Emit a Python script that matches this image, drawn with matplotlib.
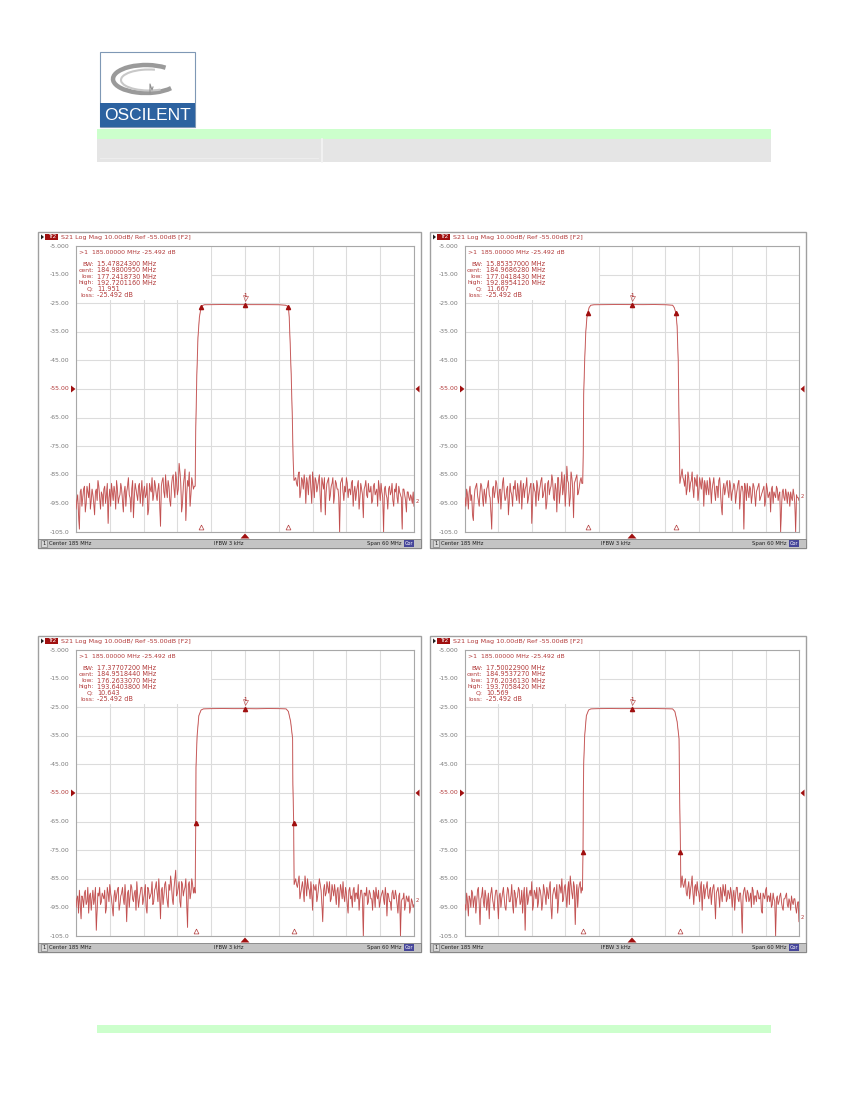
import numpy as np
import matplotlib
matplotlib.use("Agg")
import matplotlib.pyplot as plt
from matplotlib.patches import Rectangle, Arc, Polygon

# ---------------- data ----------------
f_start, f_stop = 155.0, 215.0
ref_level = -55.0
y_tick_labels = ["-5.000", "-15.00", "-25.00", "-35.00", "-45.00", "-55.00",
                 "-65.00", "-75.00", "-85.00", "-95.00", "-105.0"]
y_tick_values = [-5, -15, -25, -35, -45, -55, -65, -75, -85, -95, -105]
title_text = "S21 Log Mag 10.00dB/ Ref -55.00dB [F2]"
status_left = "Center 185 MHz"
status_mid = "IFBW 3 kHz"
status_right = "Span 60 MHz"
marker_freq = 185.0
loss_db = -25.492
info_labels = ["BW:", "cent:", "low:", "high:", "Q:", "loss:"]

bw_vals = [15.47824300, 15.85357000, 17.37707200, 17.50022900]
cent_vals = [184.9800950, 184.9686280, 184.9518440, 184.9537270]
low_vals = [177.2418730, 177.0418430, 176.2633070, 176.2036130]
high_vals = [192.7201160, 192.8954120, 193.6403800, 193.7058420]
q_vals = [11.951, 11.667, 10.643, 10.569]
bw_level = [-26.492, -28.492, -65.492, -75.492]

# passband / skirt samples (MHz, dB)
p1_pass_f = [176.15, 176.25, 176.45, 176.65, 176.9, 177.1, 177.24, 177.45, 177.8, 179.0, 181.0,
             183.0, 185.0, 187.0, 189.0, 191.0, 192.2, 192.5, 192.72, 192.85, 193.0, 193.2,
             193.4, 193.55, 193.7]
p1_pass_db = [-89, -70, -50, -37, -30, -27.6, -26.5, -25.8, -25.55, -25.5, -25.45,
              -25.5, -25.49, -25.45, -25.5, -25.55, -25.7, -26.0, -26.5, -30, -38, -50,
              -65, -80, -87]
p2_pass_f = [176.15, 176.25, 176.32, 176.5, 176.7, 176.9, 177.04, 177.3, 177.6, 178.2, 180.0,
             182.0, 185.0, 187.0, 189.0, 191.0, 192.3, 192.6, 192.9, 193.1, 193.3, 193.4,
             193.46, 193.6]
p2_pass_db = [-88, -76, -57, -45, -35, -30, -28.5, -26.5, -25.7, -25.55, -25.5,
              -25.45, -25.49, -25.5, -25.45, -25.55, -25.7, -26.6, -28.5, -33, -45, -60,
              -69, -88]
p3_pass_f = [176.15, 176.22, 176.26, 176.3, 176.5, 176.8, 177.2, 177.6, 179.0, 181.0, 183.0,
             185.0, 187.0, 189.0, 191.0, 192.3, 192.7, 193.1, 193.45, 193.5, 193.64, 193.72]
p3_pass_db = [-90, -75, -65.5, -46, -35, -28, -26, -25.6, -25.5, -25.45, -25.5,
              -25.49, -25.55, -25.45, -25.5, -25.6, -26.5, -30, -36, -52, -65.5, -87]
p4_pass_f = [176.1, 176.2, 176.25, 176.32, 176.5, 176.8, 177.2, 177.6, 179.0, 181.0, 183.0,
             185.0, 187.0, 189.0, 191.0, 192.3, 192.7, 193.1, 193.45, 193.55, 193.71, 193.78]
p4_pass_db = [-89, -75.5, -57, -45, -35, -28, -26, -25.6, -25.5, -25.45, -25.5,
              -25.49, -25.5, -25.45, -25.55, -25.6, -26.5, -30, -36, -55, -75.5, -88]

# noise floor outside the passband (dB): left 155..176 MHz, right 194..215 MHz
# "_mid" lists hold the samples lying between the main samples
p1_left = [-97, -92, -104, -90, -93, -89, -95, -91, -88, -94, -92, -99, -90, -87, -93, -91, -96,
           -89, -92, -102, -90, -88, -94, -91, -87, -95, -92, -90, -98, -89, -91, -86, -93, -90,
           -100, -88, -92, -89, -95, -87, -91, -93, -88, -97, -90, -86, -92, -89, -94, -88, -103,
           -87, -91, -85, -93, -89, -96, -86, -90, -84, -92, -81, -88, -95, -86, -101, -87, -84,
           -92, -88, -89]
p1_left_mid = [-94, -99, -91, -96, -90, -98, -89, -93, -97, -90, -95, -91, -94, -89, -97, -92, -90,
               -95, -88, -93, -96, -91, -89, -97, -90, -93, -88, -94, -91, -96, -89, -92, -98, -87,
               -93, -90, -94, -88, -91, -96, -89, -92, -99, -88, -91, -94, -87, -92, -90, -95, -89,
               -86, -93, -90, -87, -94, -89, -85, -93, -87, -90, -84, -98, -89, -83, -92, -89, -96,
               -86, -90]
p1_right = [-86, -89, -84, -91, -87, -85, -95, -88, -86, -90, -84, -93, -87, -89, -85, -98, -88,
            -86, -91, -87, -94, -89, -86, -92, -88, -90, -105, -87, -91, -89, -86, -93, -90, -88,
            -96, -89, -91, -87, -93, -90, -100, -89, -92, -88, -91, -95, -89, -92, -90, -87, -94,
            -91, -105, -89, -93, -90, -92, -88, -96, -91, -93, -89, -92, -104, -90, -94, -91,
            -93, -92, -95, -96]
p1_right_mid = [-88, -85, -93, -86, -90, -88, -86, -92, -85, -95, -88, -86, -91, -87, -93, -86, -90,
                -99, -88, -86, -92, -88, -95, -87, -90, -93, -88, -86, -94, -91, -88, -90, -92, -87,
                -91, -94, -89, -97, -88, -92, -90, -87, -93, -91, -89, -94, -88, -91, -96, -90, -88,
                -93, -90, -92, -97, -89, -91, -94, -90, -88, -95, -91, -93, -90, -92, -98, -91, -94,
                -93, -91]
p2_left = [-93, -90, -97, -89, -92, -101, -90, -88, -94, -91, -89, -96, -92, -90, -87, -93, -104,
           -89, -91, -88, -95, -90, -92, -86, -94, -90, -99, -88, -92, -89, -87, -94, -91, -89,
           -97, -88, -90, -86, -93, -89, -102, -88, -91, -87, -94, -89, -86, -92, -88, -95, -87,
           -90, -85, -93, -88, -98, -86, -91, -84, -89, -96, -82, -88, -93, -86, -100, -87, -85,
           -91, -87, -88]
p2_left_mid = [-96, -92, -91, -94, -99, -93, -89, -92, -96, -88, -93, -90, -95, -89, -92, -98, -90,
               -93, -87, -92, -91, -97, -88, -91, -93, -89, -94, -91, -96, -90, -92, -88, -95, -87,
               -91, -93, -89, -95, -91, -88, -94, -90, -96, -89, -91, -87, -93, -90, -97, -88, -92,
               -89, -87, -94, -90, -86, -95, -88, -92, -85, -91, -87, -96, -84, -90, -88, -86, -92,
               -89, -86]
p2_right = [-83, -87, -85, -90, -86, -88, -84, -93, -87, -85, -91, -88, -86, -96, -89, -87, -92,
            -88, -90, -86, -94, -89, -87, -91, -99, -88, -90, -87, -93, -89, -91, -88, -95, -90,
            -87, -92, -89, -104, -90, -88, -93, -90, -92, -89, -96, -90, -88, -93, -91, -89, -94,
            -90, -92, -98, -89, -91, -93, -90, -92, -105, -91, -93, -90, -95, -92, -91, -94,
            -92, -105, -93, -94]
p2_right_mid = [-86, -89, -92, -84, -91, -87, -90, -86, -89, -94, -86, -90, -88, -87, -92, -90, -86,
                -95, -88, -91, -89, -93, -86, -96, -90, -92, -88, -91, -87, -94, -90, -89, -92, -88,
                -97, -89, -91, -88, -94, -91, -89, -95, -88, -92, -91, -89, -94, -92, -90, -96, -88,
                -93, -91, -90, -95, -92, -89, -94, -91, -97, -90, -94, -92, -91, -96, -93, -90, -95,
                -92, -93]
p3_left = [-95, -91, -89, -99, -92, -90, -94, -88, -91, -96, -89, -92, -103, -90, -88, -93, -91,
           -89, -95, -90, -87, -92, -98, -89, -91, -88, -94, -90, -92, -87, -100, -89, -91, -88,
           -93, -89, -86, -95, -90, -88, -92, -87, -97, -89, -91, -86, -93, -88, -90, -85, -99,
           -88, -91, -86, -93, -87, -84, -92, -88, -82, -90, -86, -95, -87, -89, -85, -102, -86,
           -90, -87, -88]
p3_left_mid = [-92, -97, -94, -91, -95, -89, -93, -97, -90, -92, -94, -88, -96, -91, -94, -90, -92,
               -97, -88, -93, -90, -95, -91, -93, -89, -96, -91, -88, -94, -92, -90, -95, -87, -92,
               -90, -96, -91, -92, -88, -94, -90, -95, -88, -92, -90, -94, -89, -86, -93, -91, -89,
               -94, -87, -90, -95, -89, -87, -94, -85, -91, -88, -93, -86, -91, -88, -94, -87, -92,
               -85, -90]
p3_right = [-85, -88, -84, -90, -86, -93, -87, -85, -89, -86, -96, -88, -87, -91, -85, -89, -100,
            -87, -90, -88, -86, -92, -89, -87, -94, -88, -91, -89, -86, -93, -90, -97, -88, -91,
            -89, -93, -90, -87, -92, -89, -105, -90, -88, -93, -90, -92, -89, -95, -91, -89, -93,
            -90, -92, -88, -98, -91, -93, -90, -92, -89, -94, -91, -105, -92, -90, -94, -92,
            -91, -95, -93, -94]
p3_right_mid = [-87, -86, -92, -88, -89, -84, -91, -88, -92, -90, -87, -89, -93, -88, -87, -94, -89,
                -91, -86, -90, -93, -87, -91, -90, -89, -95, -87, -92, -91, -88, -94, -89, -92, -95,
                -88, -90, -92, -96, -89, -92, -90, -91, -94, -89, -92, -96, -90, -88, -92, -95, -91,
                -89, -94, -91, -90, -93, -96, -89, -92, -91, -97, -90, -93, -92, -96, -91, -93, -97,
                -92, -95]
p4_left = [-94, -90, -98, -92, -89, -95, -91, -93, -88, -101, -91, -93, -89, -96, -90, -92, -88,
           -94, -91, -89, -99, -90, -92, -88, -95, -91, -89, -93, -87, -97, -90, -92, -88, -94,
           -89, -91, -103, -88, -92, -89, -86, -94, -90, -88, -93, -89, -96, -87, -91, -88, -92,
           -86, -99, -89, -90, -87, -93, -88, -85, -92, -87, -95, -86, -84, -90, -86, -101, -87,
           -89, -86, -88]
p4_left_mid = [-96, -93, -91, -95, -90, -92, -97, -89, -94, -92, -88, -95, -91, -93, -99, -90, -92,
               -96, -89, -93, -91, -95, -90, -92, -96, -88, -93, -91, -94, -89, -95, -91, -89, -93,
               -97, -88, -92, -94, -90, -91, -96, -89, -92, -95, -88, -91, -93, -89, -94, -90, -88,
               -95, -91, -88, -92, -97, -87, -90, -93, -88, -91, -89, -94, -87, -92, -88, -91, -95,
               -87, -90]
p4_right = [-84, -88, -85, -91, -86, -89, -84, -94, -87, -86, -90, -88, -96, -87, -89, -86, -92,
            -88, -90, -87, -99, -89, -91, -88, -93, -89, -87, -92, -90, -88, -95, -89, -91, -88,
            -93, -90, -104, -89, -91, -89, -93, -90, -88, -94, -91, -89, -92, -90, -97, -91, -89,
            -93, -91, -90, -94, -92, -105, -91, -93, -90, -95, -92, -91, -94, -92, -96, -93,
            -92, -95, -94, -100]
p4_right_mid = [-87, -86, -90, -88, -92, -87, -90, -88, -91, -89, -93, -86, -90, -92, -88, -91, -89,
                -94, -88, -92, -90, -88, -95, -90, -87, -91, -93, -89, -92, -90, -91, -96, -88, -92,
                -90, -95, -91, -88, -93, -90, -92, -95, -89, -91, -93, -90, -92, -96, -90, -92, -88,
                -91, -93, -95, -90, -93, -92, -94, -91, -93, -96, -92, -90, -95, -93, -91, -94, -92,
                -97, -93]

pass_f = [p1_pass_f, p2_pass_f, p3_pass_f, p4_pass_f]
pass_db = [p1_pass_db, p2_pass_db, p3_pass_db, p4_pass_db]
noise_left = [p1_left, p2_left, p3_left, p4_left]
noise_left_mid = [p1_left_mid, p2_left_mid, p3_left_mid, p4_left_mid]
noise_right = [p1_right, p2_right, p3_right, p4_right]
noise_right_mid = [p1_right_mid, p2_right_mid, p3_right_mid, p4_right_mid]


def merge(main, mid, fa, fb):
    fm = np.linspace(fa, fb, len(main))
    centers = (fm[:-1] + fm[1:]) / 2
    n = min(len(mid), len(centers))
    f = np.concatenate([fm, centers[:n]])
    d = np.concatenate([np.asarray(main, float), np.asarray(mid[:n], float)])
    o = np.argsort(f, kind="stable")
    return f[o], d[o]


# ---------------- layout ----------------
W, H = 850, 1100
fig = plt.figure(figsize=(8.5, 11), dpi=100)
page = fig.add_axes([0, 0, 1, 1])
page.set_xlim(0, W)
page.set_ylim(H, 0)
page.axis("off")

TRACE = "#d06e6e"
DARK = "#a00f0f"
TXT_RED = "#b23a3a"
GRID = "#dcdcdc"

# logo
page.add_patch(Rectangle((100, 52), 95, 75, facecolor="white", edgecolor="#7f98b5", lw=0.8))
page.add_patch(Rectangle((100, 103), 95, 24, facecolor="#2c62a0", edgecolor="none"))
page.text(147.5, 116, "OSCILENT", color="white", fontsize=12.5, ha="center", va="center",
          family="Liberation Sans")
page.add_patch(Arc((146, 79), 66, 28, theta1=20, theta2=330, color="#9a9a9a", lw=3.2))
page.add_patch(Arc((149, 80), 56, 21, theta1=40, theta2=300, color="#c8c8c8", lw=1.5))
page.plot([150, 150, 152, 153], [93, 84, 90, 87], color="#909090", lw=0.8)

# header bars
page.add_patch(Rectangle((97, 129), 674, 10, facecolor="#ccffcc", edgecolor="none"))
page.add_patch(Rectangle((97, 139), 674, 22.5, facecolor="#e5e5e5", edgecolor="none"))
page.plot([322, 322], [139, 161.5], color="#f4f4f4", lw=1.2)
page.plot([100, 318], [158, 158], color="#ededed", lw=0.8)
# footer bar
page.add_patch(Rectangle((97, 1025), 674, 7.5, facecolor="#ccffcc", edgecolor="none"))

panels = [
    ((38, 232, 421, 548), (76, 246, 414, 532)),
    ((430, 232, 806, 548), (465, 246, 799, 532)),
    ((38, 636, 421, 952), (76, 650, 414, 936)),
    ((430, 636, 806, 952), (465, 650, 799, 936)),
]

for i, ((fx0, fy0, fx1, fy1), (ax0, ay0, ax1, ay1)) in enumerate(panels):
    # frame
    page.add_patch(Rectangle((fx0, fy0), fx1 - fx0, fy1 - fy0, facecolor="white",
                             edgecolor="#a0a0a0", lw=1.0))
    # title row
    page.add_patch(Polygon([[fx0 + 3, fy0 + 2.5], [fx0 + 3, fy0 + 7.5], [fx0 + 6, fy0 + 5]],
                           closed=True, facecolor="#202020", edgecolor="none"))
    page.add_patch(Rectangle((fx0 + 7, fy0 + 1.8), 13.5, 6.2, facecolor="#a01010", edgecolor="none"))
    page.text(fx0 + 13.7, fy0 + 5, "Tr2", color="white", fontsize=4.0, ha="center", va="center")
    page.text(fx0 + 23, fy0 + 5, title_text, color=TXT_RED, fontsize=4.6, ha="left", va="center")
    # status bar
    page.add_patch(Rectangle((fx0, fy1 - 9), fx1 - fx0, 9, facecolor="#c4c4c4", edgecolor="#808080", lw=0.6))
    page.add_patch(Rectangle((fx0 + 3, fy1 - 8), 6, 7, facecolor="#d8d8d8", edgecolor="#707070", lw=0.4))
    page.text(fx0 + 6, fy1 - 4.5, "1", fontsize=3.8, ha="center", va="center", color="#202020")
    page.text(fx0 + 11.5, fy1 - 4.5, status_left, fontsize=3.8, ha="left", va="center", color="#202020")
    page.text((ax0 + ax1) / 2 - 16, fy1 - 4.5, status_mid, fontsize=3.8, ha="center", va="center", color="#202020")
    page.add_patch(Rectangle((ax1 - 10, fy1 - 8.3), 10.5, 7.6, facecolor="#46469a", edgecolor="none"))
    page.text(ax1 - 4.75, fy1 - 4.5, "Cor", fontsize=3.6, ha="center", va="center", color="white")
    page.text(ax1 - 12, fy1 - 4.5, status_right, fontsize=3.8, ha="right", va="center", color="#202020")

    # y tick labels
    for v, lab in zip(y_tick_values, y_tick_labels):
        yy = ay0 + (-5 - v) / 100.0 * (ay1 - ay0)
        col = TXT_RED if v == ref_level else "#7a7a7a"
        page.text(ax0 - 7, yy, lab, fontsize=4.4, ha="right", va="center", color=col)
    yref = ay0 + (-5 - ref_level) / 100.0 * (ay1 - ay0)
    page.add_patch(Polygon([[ax0 - 5, yref - 3.5], [ax0 - 5, yref + 3.5], [ax0 - 0.5, yref]],
                           closed=True, facecolor="#a01010", edgecolor="none"))
    page.add_patch(Polygon([[fx1 - 1.5, yref - 3.5], [fx1 - 1.5, yref + 3.5], [fx1 - 5.5, yref]],
                           closed=True, facecolor="#a01010", edgecolor="none"))
    # center stimulus triangle
    xc = (ax0 + ax1) / 2
    page.add_patch(Polygon([[xc - 4.5, ay1 + 6.5], [xc + 4.5, ay1 + 6.5], [xc, ay1 + 1.5]],
                           closed=True, facecolor="#a01010", edgecolor="none"))

    # plot axes
    ax = fig.add_axes([ax0 / W, 1 - ay1 / H, (ax1 - ax0) / W, (ay1 - ay0) / H])
    ax.set_xlim(f_start, f_stop)
    ax.set_ylim(-105, -5)
    ax.set_xticks(np.linspace(f_start, f_stop, 11))
    ax.set_yticks(y_tick_values)
    ax.tick_params(length=0, labelleft=False, labelbottom=False)
    ax.grid(True, color=GRID, lw=0.8)
    ax.set_axisbelow(True)
    for s in ax.spines.values():
        s.set_color("#a8a8a8")
        s.set_linewidth(0.8)

    fl, dl = merge(noise_left[i], noise_left_mid[i], 155.0, 176.0)
    fr, dr = merge(noise_right[i], noise_right_mid[i], 194.0, 215.0)
    f_all = np.concatenate([fl, pass_f[i], fr])
    d_all = np.concatenate([dl, pass_db[i], dr])
    ax.plot(f_all, d_all, color=TRACE, lw=0.7, zorder=3)
    ax.plot(f_all, d_all, color=DARK, lw=0.25, alpha=0.5, zorder=3)

    # marker info box (covers grid)
    ax.add_patch(Rectangle((f_start + 0.15, -23.8), 23.85, 18.6, facecolor="white",
                           edgecolor="none", zorder=2))
    ax.text(f_start + 0.5, -7.3, ">1  %.5f MHz %.3f dB" % (marker_freq, loss_db), fontsize=4.4,
            family="DejaVu Sans", color=TXT_RED, va="center", ha="left", zorder=4)
    vals = ["%.8f MHz" % bw_vals[i], "%.7f MHz" % cent_vals[i], "%.7f MHz" % low_vals[i],
            "%.7f MHz" % high_vals[i], "%.3f" % q_vals[i], "%.3f dB" % loss_db]
    for k, (lab, val) in enumerate(zip(info_labels, vals)):
        yy = -11.3 - 2.2 * k
        ax.text(f_start + 3.2, yy, lab, fontsize=4.4, family="DejaVu Sans", color=TXT_RED,
                va="center", ha="right", zorder=4)
        ax.text(f_start + 3.75, yy, val, fontsize=4.7, family="DejaVu Sans", color=TXT_RED,
                va="center", ha="left", zorder=4)

    # markers
    ax.plot([marker_freq], [loss_db], marker="^", ms=3, color=DARK, zorder=5, clip_on=False)
    ax.plot([marker_freq], [loss_db + 2.2], marker="v", ms=3.6, markerfacecolor="none",
            markeredgecolor=TXT_RED, markeredgewidth=0.4, zorder=5)
    ax.text(marker_freq, loss_db + 3.2, "1", fontsize=4.0, color=DARK, ha="center", va="center", zorder=5)
    ax.plot([low_vals[i], high_vals[i]], [bw_level[i], bw_level[i]], ls="none", marker="^", ms=3,
            color=DARK, zorder=5)
    ax.plot([low_vals[i], high_vals[i]], [-103.2, -103.2], ls="none", marker="^", ms=3.5,
            markerfacecolor="white", markeredgecolor=TXT_RED, markeredgewidth=0.5, zorder=5)
    ax.text(f_stop + 0.3, noise_right[i][-1] + 1.5, "2", fontsize=3.8, color=TXT_RED,
            ha="left", va="center", clip_on=False)

fig.savefig("out.png", dpi=100)
